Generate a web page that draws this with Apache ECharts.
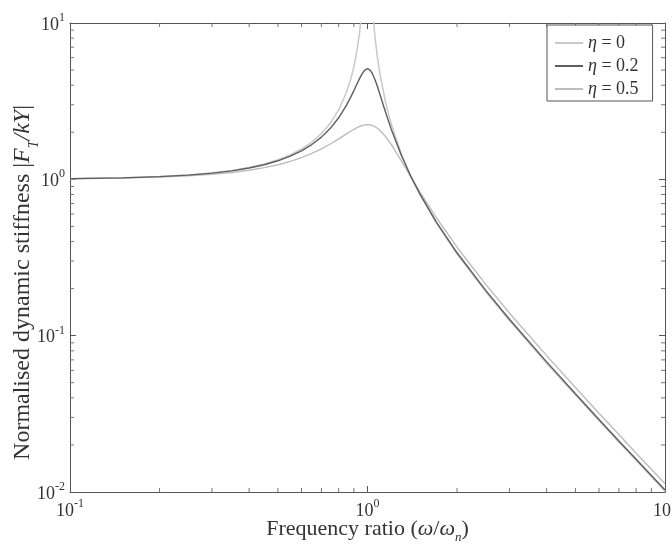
<!DOCTYPE html>
<html>
<head>
<meta charset="utf-8">
<script src="https://cdn.jsdelivr.net/npm/echarts@6/dist/echarts.min.js"></script>
<style>
  html, body { margin: 0; padding: 0; background: #fff; }
  #chart { width: 672px; height: 546px; }
</style>
</head>
<body>
<div id="chart"></div>
<script>
// Frequency ratio r = omega / omega_n
const ratio = [0.1, 0.15, 0.2, 0.25, 0.3, 0.35, 0.4, 0.45, 0.5, 0.55, 0.6, 0.65, 0.7, 0.75, 0.8, 0.85, 0.88, 0.9, 0.92, 0.94, 0.96, 0.98, 1.0, 1.02, 1.04, 1.06, 1.08, 1.1, 1.15, 1.2, 1.3, 1.4, 1.5, 1.7, 2, 2.5, 3, 4, 5, 6, 7, 8, 9, 10];

// Normalised dynamic stiffness |F_T / kY| for each loss factor
const stiffEta0 = [1.010, 1.023, 1.042, 1.067, 1.099, 1.140, 1.190, 1.254, 1.333, 1.434, 1.563, 1.732, 1.961, 2.286, 2.778, 3.604, 4.433, 5.263, 6.510, 8.591, 12.76, 25.25, null, 24.75, 12.26, 8.091, 6.010, 4.762, 3.101, 2.273, 1.449, 1.042, 0.800, 0.529, 0.333, 0.1905, 0.125, 0.0667, 0.0417, 0.0286, 0.0208, 0.0159, 0.0125, 0.0101];
const stiffEta02 = [1.010, 1.022, 1.040, 1.064, 1.095, 1.133, 1.181, 1.240, 1.314, 1.406, 1.521, 1.669, 1.862, 2.120, 2.476, 2.981, 3.382, 3.696, 4.044, 4.407, 4.747, 5.002, 5.099, 4.998, 4.721, 4.338, 3.920, 3.517, 2.687, 2.110, 1.420, 1.040, 0.806, 0.537, 0.339, 0.194, 0.1274, 0.0680, 0.0425, 0.0291, 0.0212, 0.0162, 0.01275, 0.0103];
const stiffEta05 = [1.008, 1.018, 1.033, 1.052, 1.077, 1.107, 1.144, 1.188, 1.240, 1.303, 1.377, 1.464, 1.565, 1.683, 1.815, 1.955, 2.038, 2.090, 2.137, 2.178, 2.209, 2.229, 2.236, 2.229, 2.207, 2.171, 2.122, 2.062, 1.879, 1.679, 1.312, 1.033, 0.830, 0.572, 0.368, 0.212, 0.1395, 0.0745, 0.0466, 0.0319, 0.0233, 0.0177, 0.0140, 0.0113];

const seriesNames = ['η = 0', 'η = 0.2', 'η = 0.5'];
const etaLabels = ['0', '0.2', '0.5'];
const seriesColors = ['#c9c9c9', '#5e5e5e', '#bdbdbd'];

// Minor tick positions inside each decade
const xMinorTicks = [0.2, 0.3, 0.4, 0.5, 0.6, 0.7, 0.8, 0.9, 2, 3, 4, 5, 6, 7, 8, 9];
const yMinorTicks = [0.02, 0.03, 0.04, 0.05, 0.06, 0.07, 0.08, 0.09, 0.2, 0.3, 0.4, 0.5, 0.6, 0.7, 0.8, 0.9, 2, 3, 4, 5, 6, 7, 8, 9];

const X_MIN = 0.1, X_MAX = 10, Y_MIN = 0.01, Y_MAX = 10;

const FONT = '"Liberation Serif", "DejaVu Serif", serif';
const TEXT = '#333';
const AXIS = '#555';

function pairs(ys) {
  return ratio.map((r, i) => [r, ys[i]]);
}

function powerLabel(v) {
  const e = Math.round(Math.log10(v));
  return '{b|10}{s|' + e + '}';
}

const powerRich = {
  b: { fontFamily: FONT, fontSize: 18, color: TEXT, lineHeight: 22, verticalAlign: 'bottom' },
  s: { fontFamily: FONT, fontSize: 12, color: TEXT, lineHeight: 22, verticalAlign: 'top' }
};

const axisLineStyle = { color: AXIS, width: 1 };
const TICK_LEN = 4;

// Inward minor ticks drawn on both opposite edges of the frame
function minorTickItem(horizontal) {
  return function (params, api) {
    const style = { stroke: '#777', lineWidth: 1 };
    if (horizontal) {
      const v = api.value(0);
      const a = api.coord([v, Y_MIN]);
      const b = api.coord([v, Y_MAX]);
      return {
        type: 'group',
        children: [
          { type: 'line', shape: { x1: a[0], y1: a[1], x2: a[0], y2: a[1] - TICK_LEN }, style: style },
          { type: 'line', shape: { x1: b[0], y1: b[1], x2: b[0], y2: b[1] + TICK_LEN }, style: style }
        ]
      };
    }
    const v = api.value(1);
    const c = api.coord([X_MIN, v]);
    const d = api.coord([X_MAX, v]);
    return {
      type: 'group',
      children: [
        { type: 'line', shape: { x1: c[0], y1: c[1], x2: c[0] + TICK_LEN, y2: c[1] }, style: style },
        { type: 'line', shape: { x1: d[0], y1: d[1], x2: d[0] - TICK_LEN, y2: d[1] }, style: style }
      ]
    };
  };
}

const chart = echarts.init(document.getElementById('chart'), null, { renderer: 'canvas' });

chart.setOption({
  backgroundColor: '#fff',
  animation: false,
  grid: { left: 70, right: 7, top: 23, bottom: 54, containLabel: false, outerBoundsMode: 'none' },
  legend: {
    orient: 'vertical',
    left: 547,
    top: 25,
    padding: [9, 14, 3, 8],
    itemGap: 5,
    itemWidth: 28,
    itemHeight: 2,
    itemTextGap: 9,
    icon: 'rect',
    borderColor: AXIS,
    borderWidth: 1,
    borderRadius: 0,
    backgroundColor: '#fff',
    data: seriesNames,
    formatter: function (name) {
      const idx = seriesNames.indexOf(name);
      return '{i|η}{t| = ' + etaLabels[idx] + '}';
    },
    textStyle: {
      rich: {
        i: { fontFamily: FONT, fontSize: 18, fontStyle: 'italic', color: TEXT, lineHeight: 22 },
        t: { fontFamily: FONT, fontSize: 18, color: TEXT, lineHeight: 22 }
      }
    }
  },
  xAxis: [
    {
      type: 'log', logBase: 10, min: X_MIN, max: X_MAX, position: 'bottom',
      name: '{t|Frequency ratio (}{i|ω}{t|/}{i|ω}{sub|n}{t|)}',
      nameLocation: 'middle', nameGap: 26, nameMoveOverlap: false,
      nameTextStyle: {
        rich: {
          t: { fontFamily: FONT, fontSize: 22, color: TEXT, lineHeight: 26, verticalAlign: 'top' },
          i: { fontFamily: FONT, fontSize: 22, fontStyle: 'italic', color: TEXT, lineHeight: 26, verticalAlign: 'top' },
          sub: { fontFamily: FONT, fontSize: 13, fontStyle: 'italic', color: TEXT, lineHeight: 26, verticalAlign: 'bottom' }
        }
      },
      axisLine: { lineStyle: axisLineStyle },
      axisTick: { inside: true, length: 6, lineStyle: axisLineStyle },
      splitLine: { show: false },
      axisLabel: { formatter: powerLabel, rich: powerRich, margin: 6 }
    },
    {
      type: 'log', logBase: 10, min: X_MIN, max: X_MAX, position: 'top',
      axisLine: { lineStyle: axisLineStyle },
      axisTick: { inside: true, length: 6, lineStyle: axisLineStyle },
      splitLine: { show: false },
      axisLabel: { show: false }
    }
  ],
  yAxis: [
    {
      type: 'log', logBase: 10, min: Y_MIN, max: Y_MAX, position: 'left',
      name: '{t|Normalised dynamic stiffness |}{i|F}{sub|T}{i|/kY}{t||}',
      nameLocation: 'middle', nameGap: 29, nameRotate: 90, nameMoveOverlap: false,
      nameTextStyle: {
        padding: [0, 50, 0, 0],
        rich: {
          t: { fontFamily: FONT, fontSize: 24, color: TEXT, lineHeight: 30, verticalAlign: 'top' },
          i: { fontFamily: FONT, fontSize: 24, fontStyle: 'italic', color: TEXT, lineHeight: 30, verticalAlign: 'top' },
          sub: { fontFamily: FONT, fontSize: 14, fontStyle: 'italic', color: TEXT, lineHeight: 30, verticalAlign: 'bottom' }
        }
      },
      axisLine: { lineStyle: axisLineStyle },
      axisTick: { inside: true, length: 6, lineStyle: axisLineStyle },
      splitLine: { show: false },
      axisLabel: { formatter: powerLabel, rich: powerRich, margin: 5 }
    },
    {
      type: 'log', logBase: 10, min: Y_MIN, max: Y_MAX, position: 'right',
      axisLine: { lineStyle: axisLineStyle },
      axisTick: { inside: true, length: 6, lineStyle: axisLineStyle },
      splitLine: { show: false },
      axisLabel: { show: false }
    }
  ],
  series: [
    { name: seriesNames[0], type: 'line', data: pairs(stiffEta0), symbol: 'none', connectNulls: false,
      lineStyle: { color: seriesColors[0], width: 1.5 }, itemStyle: { color: seriesColors[0] } },
    { name: seriesNames[2], type: 'line', data: pairs(stiffEta05), symbol: 'none',
      lineStyle: { color: seriesColors[2], width: 1.4 }, itemStyle: { color: seriesColors[2] } },
    { name: seriesNames[1], type: 'line', data: pairs(stiffEta02), symbol: 'none',
      lineStyle: { color: seriesColors[1], width: 1.4 }, itemStyle: { color: seriesColors[1] } },
    { name: 'xMinor', type: 'custom', silent: true, clip: false, z: 1,
      data: xMinorTicks.map(v => [v, Y_MIN]), renderItem: minorTickItem(true) },
    { name: 'yMinor', type: 'custom', silent: true, clip: false, z: 1,
      data: yMinorTicks.map(v => [X_MIN, v]), renderItem: minorTickItem(false) }
  ]
});
</script>
</body>
</html>
